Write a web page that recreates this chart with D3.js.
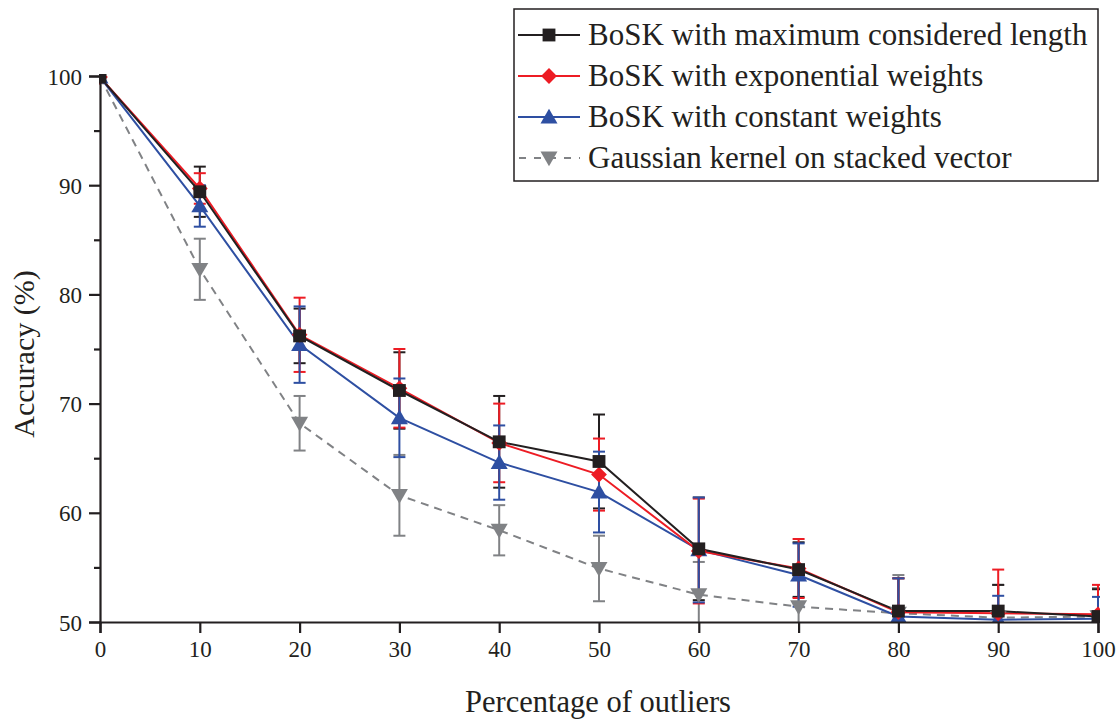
<!DOCTYPE html>
<html><head><meta charset="utf-8">
<script src="https://cdn.jsdelivr.net/npm/d3@7"></script>
<style>body{margin:0;background:#fff}svg{display:block}</style>
</head><body>
<svg id="c" width="1120" height="722"></svg>
<script>
const xVals = [0,10,20,30,40,50,60,70,80,90,100];
const maxLen    = [99.9, 89.4, 76.2, 71.2, 66.5, 64.7, 56.7, 54.8, 51.0, 51.0, 50.5];
const maxLenErr = [0, 2.3, 2.5, 3.5, 4.2, 4.3, 4.7, 2.5, 3.0, 2.4, 2.5];
const expW      = [99.9, 89.7, 76.3, 71.4, 66.4, 63.5, 56.5, 54.9, 50.9, 50.8, 50.7];
const expErr    = [0, 1.4, 3.4, 3.6, 3.6, 3.3, 4.8, 2.7, 3.1, 4.0, 2.7];
const conW      = [99.9, 88.1, 75.4, 68.7, 64.6, 61.9, 56.6, 54.3, 50.5, 50.2, 50.3];
const conErr    = [0, 1.9, 3.5, 3.6, 3.4, 3.7, 4.8, 2.9, 3.5, 2.2, 2.0];
const gauss     = [99.9, 82.3, 68.2, 61.6, 58.4, 54.9, 52.5, 51.4, 50.8, 50.4, 50.5];
const gaussErr  = [0, 2.8, 2.5, 3.7, 2.3, 3.0, 3.0, 2.8, 3.5, 3.0, 2.6];
const seriesNames = ["BoSK with maximum considered length","BoSK with exponential weights","BoSK with constant weights","Gaussian kernel on stacked vector"];
const xTicks = [0,10,20,30,40,50,60,70,80,90,100];
const yTicks = [50,60,70,80,90,100];
const yMinor = [55,65,75,85,95];
const xTitle = "Percentage of outliers";
const yTitle = "Accuracy (%)";

const FONT = "'Liberation Serif','Times New Roman',serif";
const axisColor = "#231f20";
const sqSym = d3.symbolSquare;
const series = [
  {name: seriesNames[0], v: maxLen, e: maxLenErr, color: "#231f20", sym: sqSym, size: 165, dash: null, rot: 0, dy: 0},
  {name: seriesNames[1], v: expW,   e: expErr,    color: "#ed1c24", sym: sqSym, size: 125, dash: null, rot: 45, dy: 0},
  {name: seriesNames[2], v: conW,   e: conErr,    color: "#2e4fa2", sym: d3.symbolTriangle, size: 125, dash: null, rot: 0, dy: 1.5},
  {name: seriesNames[3], v: gauss,  e: gaussErr,  color: "#808285", sym: d3.symbolTriangle, size: 125, dash: "8,6", rot: 180, dy: -1.5}
];

const svg = d3.select("#c");
const x = d3.scaleLinear().domain([0,100]).range([100,1098]);
const y = d3.scaleLinear().domain([50,100]).range([622,76]);

svg.append("defs").append("clipPath").attr("id","clip")
  .append("rect").attr("x",99).attr("y",74).attr("width",1001).attr("height",549);

const plot = svg.append("g").attr("clip-path","url(#clip)");

// error bars: gray, black, red, blue
const ebOrder = [3,0,1,2];
const cap = 6;
ebOrder.forEach(i => {
  const s = series[i];
  const g = plot.append("g");
  xVals.forEach((xv,j) => {
    if (s.e[j] <= 0) return;
    const cx = x(xv), yt = y(s.v[j]+s.e[j]), yb = y(s.v[j]-s.e[j]);
    g.append("line").attr("x1",cx).attr("x2",cx).attr("y1",yt).attr("y2",yb)
      .attr("stroke",s.color).attr("stroke-width",2);
    [yt,yb].forEach(yy => g.append("line").attr("x1",cx-cap).attr("x2",cx+cap).attr("y1",yy).attr("y2",yy)
      .attr("stroke",s.color).attr("stroke-width",2));
  });
});

// lines
const lineGen = d3.line().x((d,j)=>x(xVals[j])).y(d=>y(d));
[3,2,1,0].forEach(i => {
  const s = series[i];
  plot.append("path").datum(s.v).attr("d",lineGen).attr("fill","none")
    .attr("stroke",s.color).attr("stroke-width",2)
    .attr("stroke-dasharray",s.dash);
});

// markers
[3,2,1,0].forEach(i => {
  const s = series[i];
  const sym = d3.symbol().type(s.sym).size(s.size);
  plot.append("g").selectAll("path").data(s.v).join("path")
    .attr("d",sym)
    .attr("transform",(d,j)=>`translate(${x(xVals[j])},${y(d) + s.dy}) rotate(${s.rot})`)
    .attr("fill",s.color);
});

// axes
const xAxis = svg.append("g").attr("transform","translate(0,622)")
  .call(d3.axisBottom(x).tickValues(xTicks).tickSize(11).tickPadding(7).tickFormat(d3.format("d")));
const yAxis = svg.append("g").attr("transform","translate(100,0)")
  .call(d3.axisLeft(y).tickValues(yTicks).tickSize(11).tickPadding(7).tickFormat(d3.format("d")));
const yAxisMinor = svg.append("g").attr("transform","translate(100,0)")
  .call(d3.axisLeft(y).tickValues(yMinor).tickSize(6).tickFormat(""));
[xAxis,yAxis,yAxisMinor].forEach(a => {
  a.select(".domain").attr("stroke",axisColor).attr("stroke-width",2.2);
  a.selectAll(".tick line").attr("stroke",axisColor).attr("stroke-width",2.2);
  a.selectAll(".tick text").attr("fill","#231f20").style("font-family",FONT).style("font-size","23px");
});
yAxisMinor.select(".domain").remove();
yAxis.selectAll(".tick text").attr("dy","0.35em");
xAxis.selectAll(".tick text").attr("dy","0.75em");

svg.append("text").attr("x",598).attr("y",712).attr("text-anchor","middle")
  .style("font-family",FONT).style("font-size","30.5px").attr("fill","#231f20").text(xTitle);
svg.append("text").attr("transform","translate(34,354) rotate(-90)").attr("text-anchor","middle")
  .style("font-family",FONT).style("font-size","30px").attr("fill","#231f20").text(yTitle);

// legend
const leg = svg.append("g");
leg.append("rect").attr("x",514).attr("y",9).attr("width",584).attr("height",172)
  .attr("fill","#fff").attr("stroke","#231f20").attr("stroke-width",1.5);
const rowY = [35,76,117,158];
series.forEach((s,i) => {
  const yy = rowY[i];
  leg.append("line").attr("x1",518).attr("x2",580).attr("y1",yy).attr("y2",yy)
    .attr("stroke",s.color).attr("stroke-width",2).attr("stroke-dasharray",s.dash ? "7,8" : null)
    .attr("stroke-dashoffset", s.dash ? -1 : null);
  leg.append("path").attr("d",d3.symbol().type(s.sym).size(s.size)())
    .attr("transform",`translate(549,${yy + s.dy}) rotate(${s.rot})`)
    .attr("fill",s.color);
  leg.append("text").attr("x",588).attr("y",yy+10)
    .style("font-family",FONT).style("font-size","31px").attr("fill","#231f20").text(s.name);
});
</script>
</body></html>
